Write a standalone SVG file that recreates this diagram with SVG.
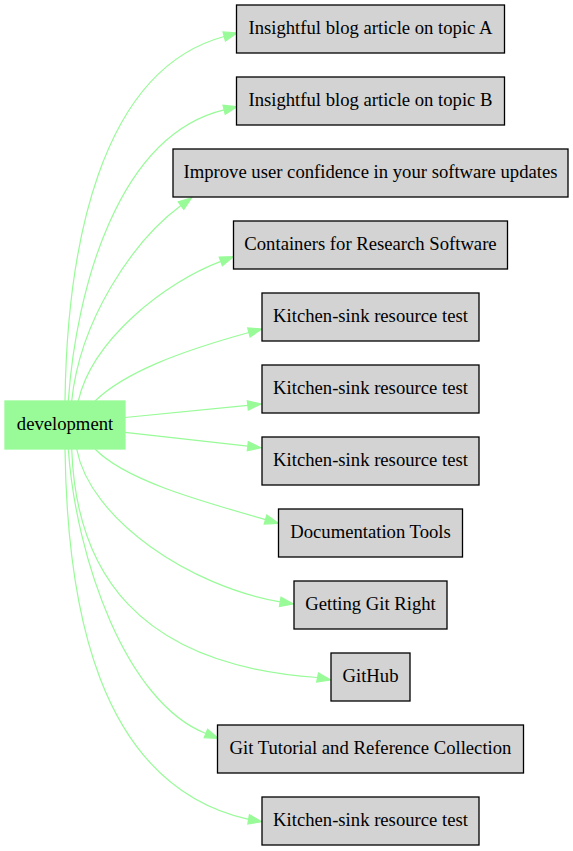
<svg xmlns="http://www.w3.org/2000/svg" width="573" height="851" viewBox="0 0 573 851">
<style>
.n rect{fill:#d3d3d3;stroke:#000;stroke-width:1.3}
text{font-family:'Liberation Serif','Times New Roman',Times,'DejaVu Serif',serif;font-size:18.67px;fill:#000;text-anchor:middle}
.d rect{fill:#98fb98;stroke:#98fb98;stroke-width:1.3}
.e path{fill:none;stroke:#98fb98;stroke-width:1.2}
.e polygon{fill:#98fb98;stroke:#98fb98;stroke-width:1.2}
</style>
<rect width="573" height="851" fill="#fff"/>
<g id="edges" class="e">
<path d="M65,401 C67,250 98.7,70.3 224.2,36.5"/><polygon points="237,33 225.4,41 223,32"/>
<path d="M68.3,401 C76,290 117.2,135.5 224.1,109.8"/><polygon points="237,106.7 225.2,114.3 223,105.3"/>
<path d="M71.7,401 C80,320 132.7,241.2 181,205.6"/><polygon points="191.7,197.7 183.8,209.4 178.2,201.8"/>
<path d="M78.3,401 C92,340 164.6,282.5 220.8,261.4"/><polygon points="233.3,256.7 222.4,265.8 219.2,257"/>
<path d="M95,401 C125,372 181.4,351.1 248.9,332.5"/><polygon points="261.7,329 250.1,337 247.7,328"/>
<path d="M125,417.5 L247.8,405.3"/><polygon points="261,404 248.3,410 247.3,400.7"/>
<path d="M125,432.3 L247.8,446.2"/><polygon points="261,447.7 247.3,450.8 248.3,441.6"/>
<path d="M95,449 C125,480 198.2,500.3 265.5,519.6"/><polygon points="278.3,523.3 264.2,524.1 266.8,515.1"/>
<path d="M76.7,449 C90,520 191.5,586.9 280.2,601.8"/><polygon points="293.3,604 279.4,606.4 281,597.2"/>
<path d="M71.7,449 C76,570 135,665 317.6,677.5"/><polygon points="330.7,680 316.7,682.1 318.5,672.9"/>
<path d="M68.3,449 C76,560 126.9,702.9 205.9,733.5"/><polygon points="218.3,738.3 204.2,737.8 207.6,729.2"/>
<path d="M65,449 C67,600 95,785 248.6,819.4"/><polygon points="261.7,821.7 247.8,824 249.4,814.8"/>
</g>
<g id="development" class="d"><rect x="5" y="401" width="120" height="48"/><text x="65" y="430" font-family="Liberation Serif, serif">development</text></g>
<g id="n1" class="n"><rect x="236.5" y="5" width="268" height="48"/><text x="370.5" y="34">Insightful blog article on topic A</text></g>
<g id="n2" class="n"><rect x="236.5" y="77" width="268" height="48"/><text x="370.5" y="106">Insightful blog article on topic B</text></g>
<g id="n3" class="n"><rect x="173" y="149" width="395" height="48"/><text x="370.5" y="178">Improve user confidence in your software updates</text></g>
<g id="n4" class="n"><rect x="233.5" y="221" width="274" height="48"/><text x="370.5" y="250">Containers for Research Software</text></g>
<g id="n5" class="n"><rect x="262" y="293" width="217" height="48"/><text x="370.5" y="322">Kitchen-sink resource test</text></g>
<g id="n6" class="n"><rect x="262" y="365" width="217" height="48"/><text x="370.5" y="394">Kitchen-sink resource test</text></g>
<g id="n7" class="n"><rect x="262" y="437" width="217" height="48"/><text x="370.5" y="466">Kitchen-sink resource test</text></g>
<g id="n8" class="n"><rect x="278.5" y="509" width="184" height="48"/><text x="370.5" y="538">Documentation Tools</text></g>
<g id="n9" class="n"><rect x="294" y="581" width="153" height="48"/><text x="370.5" y="610">Getting Git Right</text></g>
<g id="n10" class="n"><rect x="331" y="653" width="79" height="48"/><text x="370.5" y="682">GitHub</text></g>
<g id="n11" class="n"><rect x="217.5" y="725" width="306" height="48"/><text x="370.5" y="754">Git Tutorial and Reference Collection</text></g>
<g id="n12" class="n"><rect x="262" y="797" width="217" height="48"/><text x="370.5" y="826">Kitchen-sink resource test</text></g>
</svg>
